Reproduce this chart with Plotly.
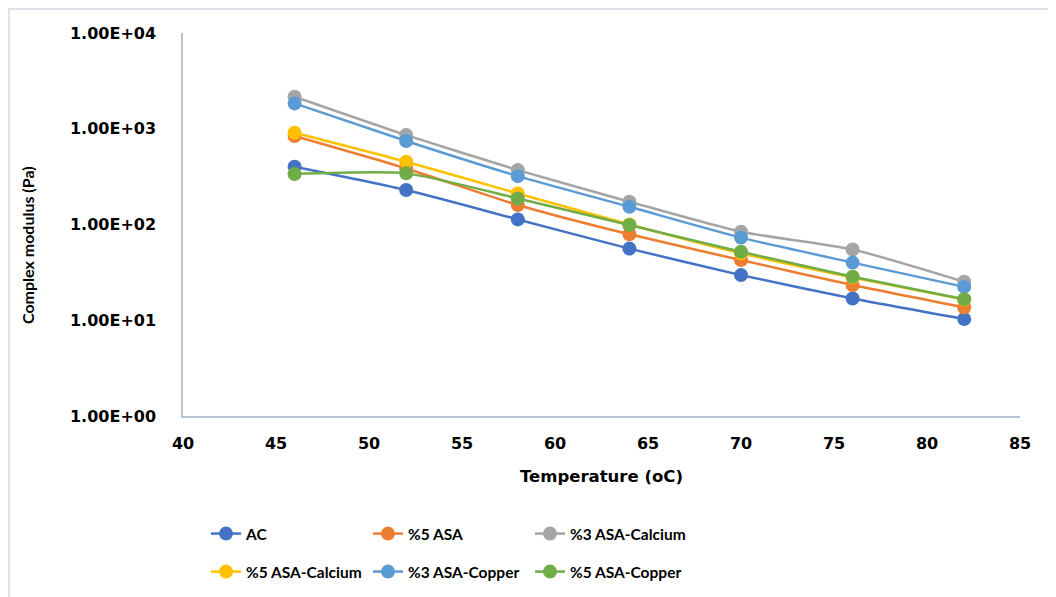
import plotly.graph_objects as go

temps = [46, 52, 58, 64, 70, 76, 82]
ac = [401, 229, 113, 56, 29.6, 16.9, 10.3]
asa5 = [839, 385, 160, 79, 42.5, 23.3, 13.6]
asa3_ca = [2160, 859, 370, 173, 84, 54.8, 25.2]
asa5_ca = [908, 452, 211, 100, 50, 28, 16.5]
asa3_cu = [1840, 744, 320, 153, 73, 40, 22.3]
asa5_cu = [336, 342, 187, 98.6, 52, 28.5, 16.6]

names = ["AC", "%5 ASA", "%3 ASA-Calcium", "%5 ASA-Calcium", "%3 ASA-Copper", "%5 ASA-Copper"]
series = [ac, asa5, asa3_ca, asa5_ca, asa3_cu, asa5_cu]
colors = ["#4472C4", "#ED7D31", "#A5A5A5", "#FFC000", "#5B9BD5", "#70AD47"]
legends = ["legend", "legend", "legend", "legend2", "legend2", "legend2"]

ytick_vals = [1, 10, 100, 1000, 10000]
ytick_text = ["1.00E+00", "1.00E+01", "1.00E+02", "1.00E+03", "1.00E+04"]
xtick_vals = [40, 45, 50, 55, 60, 65, 70, 75, 80, 85]

FONT = "DejaVu Sans"
LFONT = "Lato"
fig = go.Figure()
for n, s, c, lg in zip(names, series, colors, legends):
    fig.add_trace(go.Scatter(
        x=temps, y=s, name="<b>%s</b>" % n, mode="lines+markers",
        line=dict(color=c, width=2.5, shape="spline", smoothing=0.6),
        marker=dict(color=c, size=14),
        legend=lg,
    ))

# page has an 8px body margin, so the figure is laid out 8px up/left
W, H = 1048, 597
ml, mt = 175, 25
pw, ph = 837, 383
mr, mb = W - ml - pw, H - mt - ph

def py(page_y):
    return 1 - (page_y - 8 - mt) / ph

def px(page_x):
    return (page_x - 8 - ml) / pw

leg_common = dict(orientation="h", xanchor="left", yanchor="middle",
                  entrywidth=117, entrywidthmode="pixels",
                  font=dict(family=LFONT, size=15.5, color="#000"),
                  traceorder="normal", itemwidth=30, bgcolor="rgba(0,0,0,0)")

fig.update_layout(
    width=W, height=H,
    margin=dict(l=ml, r=mr, t=mt, b=mb),
    paper_bgcolor="white", plot_bgcolor="white",
    font=dict(family=FONT, color="#000000", size=14),
    showlegend=True,
    legend=dict(x=px(206), y=py(534), **leg_common),
    legend2=dict(x=px(206), y=py(572), **leg_common),
    xaxis=dict(range=[40, 85], tickvals=xtick_vals,
               ticktext=["<b>%d</b>" % v for v in xtick_vals],
               showgrid=False,
               showline=True, linecolor="#B9C3D3", linewidth=1.5,
               zeroline=False, ticks="", ticklabelstandoff=12,
               tickfont=dict(family=FONT, size=16, color="#000"),
               title=dict(text="<b>Temperature (oC)</b>", standoff=18,
                          font=dict(family=FONT, size=16.5, color="#000"))),
    yaxis=dict(type="log", range=[0, 4], tickvals=ytick_vals,
               ticktext=["<b>%s</b>" % t for t in ytick_text],
               showgrid=False, showline=True, linecolor="#B9C3D3",
               linewidth=1.5, zeroline=False, ticks="", ticklabelstandoff=22,
               tickfont=dict(family=FONT, size=16, color="#000")),
    annotations=[dict(text="<b>Complex modulus (Pa)</b>", textangle=-90,
                      xref="paper", yref="paper", x=px(27), y=py(245),
                      xanchor="center", yanchor="middle", showarrow=False,
                      font=dict(family=LFONT, size=16, color="#000"))],
    shapes=[
        dict(type="line", xref="paper", yref="paper",
             x0=(1 - ml) / pw, x1=1 + mr / pw, y0=1 + (mt - 1) / ph, y1=1 + (mt - 1) / ph,
             line=dict(color="#DDE2EA", width=2)),
        dict(type="line", xref="paper", yref="paper",
             x0=(1 - ml) / pw, x1=(1 - ml) / pw, y0=-mb / ph, y1=1 + mt / ph,
             line=dict(color="#DDE2EA", width=2)),
    ],
)

fig.write_html("out.html")
